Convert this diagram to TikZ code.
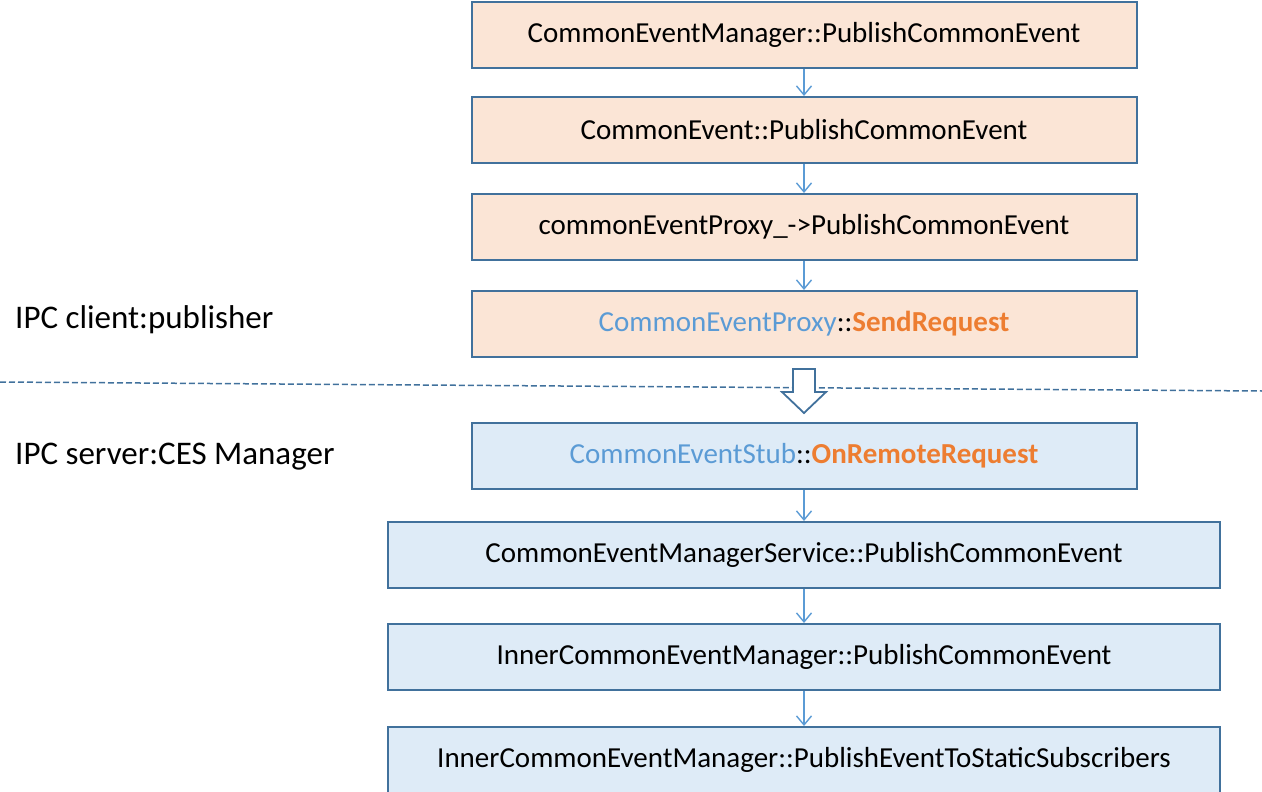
\documentclass[tikz,border=0pt]{standalone}
\usepackage{fontspec}
\setmainfont{Carlito}
\usepackage{tikz}
\usetikzlibrary{arrows.meta,positioning,calc}
\definecolor{edgeblue}{HTML}{41719C}
\definecolor{lineblue}{HTML}{5B9BD5}
\definecolor{peach}{HTML}{FBE5D6}
\definecolor{ice}{HTML}{DEEBF7}
\definecolor{hotorange}{HTML}{ED7D31}
\newcommand{\cls}[1]{\textcolor{lineblue}{#1}}
\newcommand{\mth}[1]{\textcolor{hotorange}{\bfseries #1}}

\begin{document}
\begin{tikzpicture}[x=1pt,y=1pt,
  font=\fontsize{29}{34}\selectfont,
  client/.style={draw=edgeblue,fill=peach,line width=2pt,align=center,
                 minimum width=665pt,minimum height=66pt,inner sep=0pt},
  server/.style={draw=edgeblue,fill=ice,line width=2pt,align=center,
                 minimum width=665pt,minimum height=66pt,inner sep=0pt},
  wide/.style={server,minimum width=832pt},
  side/.style={anchor=west,inner sep=0pt,font=\fontsize{33}{38}\selectfont},
  arr/.style={-{Straight Barb[length=9pt,width=15pt]},draw=lineblue,line width=1.4pt},
  sep/.style={draw=edgeblue,line width=1.5pt,dash pattern=on 6pt off 3pt},
  hollow/.style={draw=edgeblue,fill=white,line width=1.8pt,line join=miter}]
\useasboundingbox (0,0) rectangle (1262,-792);
% client side
\node[client] (mgr) at (804,-35) {CommonEventManager::PublishCommonEvent};
\node[client,below=27pt of mgr] (ce) {CommonEvent::PublishCommonEvent};
\node[client,below=29pt of ce] (px) {commonEventProxy\_->PublishCommonEvent};
\node[client,below=29pt of px] (send) {\cls{CommonEventProxy}::\mth{SendRequest}};
% server side
\node[server,below=64pt of send] (stub) {\cls{CommonEventStub}::\mth{OnRemoteRequest}};
\node[wide,below=31pt of stub] (svc) {CommonEventManagerService::PublishCommonEvent};
\node[wide,below=34pt of svc] (inner) {InnerCommonEventManager::PublishCommonEvent};
\node[wide,below=35pt of inner] (stat) {InnerCommonEventManager::PublishEventToStaticSubscribers};
\node[side] (cl) at (15,-320) {IPC client:publisher};
\node[side] (sv) at (15,-457) {IPC server:CES Manager};
\coordinate (dl) at (0,-382);
\coordinate (dr) at (1262,-391);
\draw[sep] (dl) -- (dr);
\foreach \a/\b in {mgr/ce,ce/px,px/send,stub/svc,svc/inner,inner/stat}
  \draw[arr] (\a.south) -- (\b.north);
\coordinate (mid) at ($(send.south)!0.5!(stub.north)$);
\draw[hollow] ($(mid)+(-11,21)$) -- ++(22,0) -- ++(0,-23) -- ++(11,0)
  -- ($(mid)+(0,-23)$) -- ($(mid)+(-22,-2)$) -- ++(11,0) -- cycle;
\end{tikzpicture}
\end{document}
